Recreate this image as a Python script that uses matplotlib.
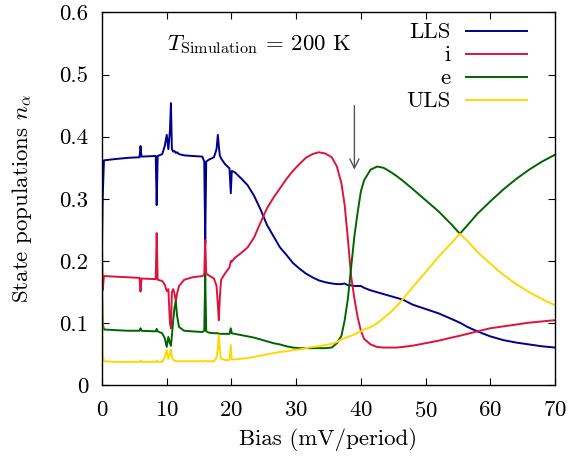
#!/usr/bin/env python3
# -*- coding: utf-8 -*-

import numpy as np
import matplotlib
matplotlib.use('Agg')
import matplotlib.pyplot as plt

plt.rcParams['font.family'] = 'serif'
plt.rcParams['font.serif'] = ['cmr10', 'DejaVu Serif']
plt.rcParams['mathtext.fontset'] = 'cm'
plt.rcParams['axes.formatter.use_mathtext'] = True
plt.rcParams['font.size'] = 16.5

# Bias grid (mV/period) shared by all four populations
bias = [0.0, 0.1, 0.3, 2.0, 4.0, 5.8, 5.95, 6.1, 8.3, 8.45, 8.6, 9.3, 9.7,
        10.0, 10.25, 10.5, 10.65, 10.8, 11.0, 11.2, 11.4, 11.6, 11.9, 12.7,
        14.0, 15.5, 15.8, 15.95, 16.1, 16.5, 17.3, 17.7, 17.9, 18.05, 18.2,
        18.4, 19.0, 19.7, 19.9, 20.05, 20.5, 21.5, 22.5, 23.5, 24.5, 25.5,
        26.5, 27.5, 28.5, 29.5, 30.5, 31.5, 32.5, 33.5, 34.5, 35.5, 36.3,
        37.0, 37.5, 38.0, 38.5, 39.0, 39.5, 40.0, 40.5, 41.5, 42.5, 43.5,
        44.5, 45.5, 46.5, 48.0, 50.0, 52.0, 54.0, 55.3, 56.5, 58.0, 60.0,
        62.0, 64.0, 66.0, 68.0, 70.0]

lls = [0.22, 0.30, 0.362, 0.364, 0.366, 0.367, 0.385, 0.368, 0.369, 0.290,
       0.369, 0.372, 0.385, 0.403, 0.380, 0.410, 0.454, 0.380, 0.376, 0.377,
       0.374, 0.375, 0.372, 0.370, 0.369, 0.368, 0.360, 0.229, 0.360, 0.363,
       0.367, 0.380, 0.403, 0.385, 0.370, 0.365, 0.356, 0.349, 0.309, 0.345,
       0.343, 0.333, 0.322, 0.305, 0.283, 0.258, 0.240, 0.222, 0.210, 0.197,
       0.188, 0.180, 0.174, 0.169, 0.166, 0.164, 0.163, 0.163, 0.164, 0.161,
       0.161, 0.160, 0.160, 0.160, 0.157, 0.153, 0.150, 0.147, 0.144, 0.141,
       0.138, 0.130, 0.123, 0.116, 0.107, 0.101, 0.094, 0.087, 0.079, 0.073,
       0.069, 0.066, 0.063, 0.061]

inj = [0.23, 0.153, 0.176, 0.175, 0.174, 0.173, 0.151, 0.172, 0.171, 0.245,
       0.170, 0.168, 0.162, 0.152, 0.155, 0.100, 0.092, 0.150, 0.155, 0.148,
       0.135, 0.148, 0.160, 0.170, 0.174, 0.176, 0.178, 0.234, 0.180, 0.177,
       0.172, 0.160, 0.130, 0.105, 0.140, 0.170, 0.180, 0.190, 0.200, 0.199,
       0.205, 0.213, 0.222, 0.238, 0.262, 0.285, 0.302, 0.317, 0.332, 0.345,
       0.356, 0.366, 0.372, 0.375, 0.373, 0.367, 0.352, 0.325, 0.290, 0.235,
       0.175, 0.140, 0.110, 0.088, 0.075, 0.066, 0.062, 0.061, 0.061, 0.061,
       0.062, 0.064, 0.068, 0.072, 0.077, 0.080, 0.083, 0.087, 0.092, 0.095,
       0.098, 0.101, 0.103, 0.105]

ext = [0.165, 0.10, 0.090, 0.089, 0.088, 0.088, 0.092, 0.088, 0.087, 0.091,
       0.087, 0.084, 0.076, 0.062, 0.078, 0.068, 0.064, 0.080, 0.105, 0.125,
       0.135, 0.112, 0.094, 0.088, 0.087, 0.086, 0.088, 0.178, 0.087, 0.085,
       0.084, 0.084, 0.084, 0.083, 0.083, 0.083, 0.083, 0.083, 0.092, 0.084,
       0.083, 0.081, 0.079, 0.077, 0.074, 0.071, 0.068, 0.066, 0.063, 0.061,
       0.060, 0.060, 0.060, 0.060, 0.060, 0.061, 0.068, 0.080, 0.105, 0.140,
       0.190, 0.240, 0.278, 0.312, 0.330, 0.347, 0.352, 0.350, 0.344, 0.337,
       0.329, 0.316, 0.298, 0.280, 0.259, 0.244, 0.258, 0.276, 0.296, 0.315,
       0.332, 0.347, 0.360, 0.371]

uls = [0.16, 0.05, 0.039, 0.038, 0.038, 0.038, 0.040, 0.038, 0.038, 0.040,
       0.038, 0.038, 0.045, 0.057, 0.043, 0.050, 0.058, 0.045, 0.041, 0.040,
       0.039, 0.039, 0.039, 0.039, 0.039, 0.039, 0.039, 0.040, 0.039, 0.039,
       0.039, 0.045, 0.060, 0.081, 0.060, 0.043, 0.041, 0.041, 0.065, 0.042,
       0.042, 0.043, 0.044, 0.046, 0.048, 0.050, 0.052, 0.054, 0.055, 0.057,
       0.058, 0.060, 0.062, 0.063, 0.065, 0.067, 0.070, 0.074, 0.076, 0.078,
       0.080, 0.082, 0.085, 0.087, 0.090, 0.094, 0.100, 0.108, 0.117, 0.127,
       0.139, 0.158, 0.182, 0.207, 0.229, 0.244, 0.232, 0.215, 0.196, 0.178,
       0.163, 0.150, 0.139, 0.129]

names = ['LLS', 'i', 'e', 'ULS']
colors = ['#00008b', '#dc143c', '#006400', '#ffd700']
xticks = [0, 10, 20, 30, 40, 50, 60, 70]
yticks = [0, 0.1, 0.2, 0.3, 0.4, 0.5, 0.6]
ytick_labels = ['0', '0.1', '0.2', '0.3', '0.4', '0.5', '0.6']
arrow_x = 39.0

fig = plt.figure(figsize=(5.68, 4.61), dpi=100)
ax = fig.add_axes([0.1796, 0.1638, 0.7975, 0.8095])

for series, c in zip([lls, inj, ext, uls], colors):
    ax.plot(bias, series, color=c, lw=1.4)

ax.set_xlim(0, 70)
ax.set_ylim(0, 0.6)
ax.set_xticks(xticks)
ax.set_yticks(yticks)
ax.set_yticklabels(ytick_labels)
ax.tick_params(direction='in', top=True, right=True, length=5, width=0.8)
ax.tick_params(axis='x', pad=11)
ax.tick_params(axis='y', pad=10)
for s in ax.spines.values():
    s.set_linewidth(1.0)

ax.set_xlabel('Bias (mV/period)', labelpad=5)
ax.set_ylabel(r'State populations $n_\alpha$', labelpad=18)

ax.text(0.1435, 0.899, r'$T_{\mathrm{Simulation}}$ = 200 K',
        transform=ax.transAxes, ha='left', va='baseline')

ax.annotate('', xy=(arrow_x, 0.347), xytext=(arrow_x, 0.45),
            arrowprops=dict(arrowstyle='->', color='#555555', lw=1.0,
                            shrinkA=0, shrinkB=0))

# gnuplot-style key: right-justified labels followed by line samples
key_rows = [0.951, 0.888, 0.827, 0.765]
for name, c, ky in zip(names, colors, key_rows):
    ax.text(0.770, ky - 0.019, name, transform=ax.transAxes,
            ha='right', va='baseline')
    ax.plot([0.804, 0.938], [ky, ky], color=c, lw=1.4,
            transform=ax.transAxes)

plt.savefig('out.png', dpi=100)
